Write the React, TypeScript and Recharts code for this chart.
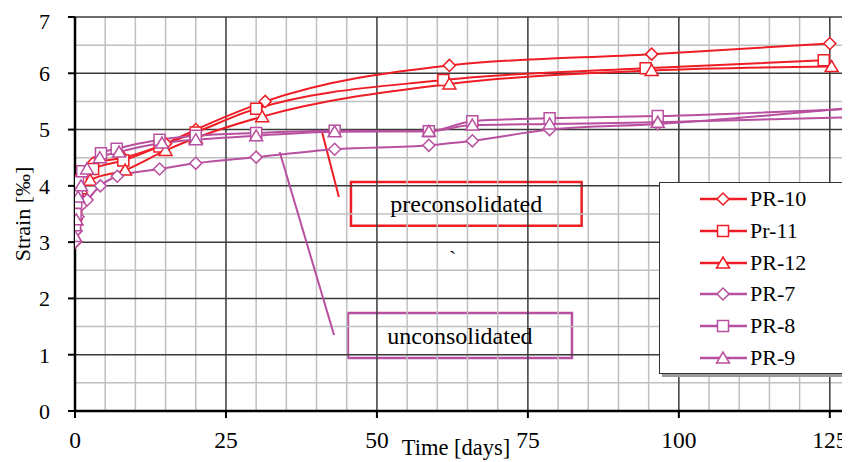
import React from 'react';
import { LineChart, Line, XAxis, YAxis, ReferenceLine, ReferenceArea } from 'recharts';

const FONT = '"Liberation Serif", "Times New Roman", serif';
const RED = '#EE1D25';
const PURPLE = '#B8509F';

// Time [days] and strain [‰] per series
const pr10Days = [0, 0.2, 0.5, 1, 3, 8, 15, 20, 31.5, 62, 95.5, 125];
const pr10Vals = [3.0, 3.4, 3.8, 4.1, 4.4, 4.5, 4.75, 5.0, 5.5, 6.14, 6.34, 6.53];
const pr11Days = [0, 0.2, 0.5, 1, 3, 8, 14, 20, 30, 61, 94.5, 124];
const pr11Vals = [3.3, 3.6, 3.9, 4.1, 4.3, 4.45, 4.7, 4.95, 5.37, 5.88, 6.09, 6.23];
const pr12Days = [0, 0.2, 0.5, 1, 2.5, 8.3, 15, 20, 31, 62, 95.5, 125.3];
const pr12Vals = [3.1, 3.4, 3.7, 3.95, 4.1, 4.28, 4.63, 4.85, 5.23, 5.81, 6.05, 6.12];
const pr7Days = [0, 0.2, 0.5, 1, 2, 4.2, 7, 14, 20, 30, 43, 58.6, 65.8, 78.6, 96.5, 130];
const pr7Vals = [3.0, 3.2, 3.45, 3.65, 3.75, 4.0, 4.17, 4.3, 4.4, 4.51, 4.65, 4.72, 4.8, 5.0, 5.1, 5.4];
const pr8Days = [0, 0.1, 0.2, 0.3, 0.5, 1.2, 4.3, 6.9, 14, 20, 30, 43, 58.6, 65.8, 78.6, 96.5, 128.6];
const pr8Vals = [3.3, 3.5, 3.7, 3.85, 4.07, 4.26, 4.58, 4.66, 4.82, 4.89, 4.94, 4.98, 4.97, 5.15, 5.2, 5.24, 5.37];
const pr9Days = [0, 0.2, 0.5, 1, 2, 4.1, 7.3, 14.4, 20, 30, 43, 58.6, 65.8, 78.6, 96.5, 128.6];
const pr9Vals = [3.1, 3.4, 3.8, 4.0, 4.3, 4.5, 4.6, 4.76, 4.82, 4.89, 4.96, 4.97, 5.08, 5.1, 5.13, 5.22];

const xTicks = [0, 25, 50, 75, 100, 125];
const yTicks = [0, 1, 2, 3, 4, 5, 6, 7];
const xMinor = [5, 10, 15, 20, 30, 35, 40, 45, 55, 60, 65, 70, 80, 85, 90, 95, 105, 110, 115, 120, 130];
const yMinor = [0.5, 1.5, 2.5, 3.5, 4.5, 5.5, 6.5];
const xMajor = [25, 50, 75, 100, 125];
const yMajor = [1, 2, 3, 4, 5, 6, 7];

const zip = (d: number[], v: number[]) => d.map((t, i) => ({ t, v: v[i] }));

type Shape = 'diamond' | 'square' | 'triangle';

const markerPath = (shape: Shape, cx: number, cy: number) => {
  if (shape === 'diamond') return `M${cx - 6},${cy} L${cx},${cy - 6} L${cx + 6},${cy} L${cx},${cy + 6} Z`;
  if (shape === 'square') return `M${cx - 5.5},${cy - 5.5} h11 v11 h-11 Z`;
  return `M${cx},${cy - 6} L${cx + 6.5},${cy + 5} L${cx - 6.5},${cy + 5} Z`;
};

const makeDot = (shape: Shape, color: string) => (props: any) => {
  const { cx, cy, index } = props;
  if (cx == null || cy == null) return <g key={index} />;
  return <path key={index} d={markerPath(shape, cx, cy)} fill="#fff" stroke={color} strokeWidth={1.5} />;
};

const series = [
  { name: 'PR-10', data: zip(pr10Days, pr10Vals), color: RED, shape: 'diamond' as Shape },
  { name: 'Pr-11', data: zip(pr11Days, pr11Vals), color: RED, shape: 'square' as Shape },
  { name: 'PR-12', data: zip(pr12Days, pr12Vals), color: RED, shape: 'triangle' as Shape },
  { name: 'PR-7', data: zip(pr7Days, pr7Vals), color: PURPLE, shape: 'diamond' as Shape },
  { name: 'PR-8', data: zip(pr8Days, pr8Vals), color: PURPLE, shape: 'square' as Shape },
  { name: 'PR-9', data: zip(pr9Days, pr9Vals), color: PURPLE, shape: 'triangle' as Shape },
];

const YLabel = () => (
  <text x={14} y={206} transform="rotate(-90 14 206)" textAnchor="middle" dominantBaseline="central" fill="#000" fontSize={22} fontFamily={FONT}>
    Strain [‰]
  </text>
);

const XLabel = () => (
  <text x={448} y={439} textAnchor="middle" dominantBaseline="central" fill="#000" fontSize={22.5} fontFamily={FONT}>
    Time [days]
  </text>
);

const LegendBox = () => (
  <div
    style={{
      position: 'absolute',
      left: 651,
      top: 174,
      width: 186,
      height: 190,
      background: '#fff',
      border: '1px solid #333',
      boxShadow: '3px 3px 0 #9a9a9a',
      fontFamily: FONT,
      fontSize: 22,
      color: '#000',
    }}
  >
    {series.map((s, i) => (
      <div key={s.name} style={{ position: 'absolute', left: 40, top: 1 + i * 31.8, height: 30, display: 'flex', alignItems: 'center' }}>
        <svg width={49} height={20} style={{ display: 'block' }}>
          <line x1={0} y1={10} x2={47} y2={10} stroke={s.color} strokeWidth={2.5} />
          <path d={markerPath(s.shape, 23, 10)} fill="#fff" stroke={s.color} strokeWidth={1.5} />
        </svg>
        <span style={{ marginLeft: 1, lineHeight: '30px' }}>{s.name}</span>
      </div>
    ))}
  </div>
);

export default function App() {
  return (
    <div style={{ position: 'relative', width: 842, height: 454, overflow: 'hidden', background: '#fff' }}>
      <LineChart width={856} height={454} margin={{ top: 9, right: 4, left: 7, bottom: 1 }}>
        <XAxis
          type="number"
          dataKey="t"
          domain={[0, 130]}
          ticks={xTicks}
          allowDataOverflow
          height={50}
          tickSize={7}
          tickMargin={13}
          axisLine={{ stroke: '#000', strokeWidth: 2.5 }}
          tickLine={{ stroke: '#000', strokeWidth: 2 }}
          tick={{ fill: '#000', fontSize: 23.5, fontFamily: FONT }}
          label={<XLabel />}
        />
        <YAxis
          type="number"
          domain={[0, 7]}
          ticks={yTicks}
          width={60}
          tickSize={7}
          tickMargin={18}
          axisLine={{ stroke: '#000', strokeWidth: 2.5 }}
          tickLine={{ stroke: '#000', strokeWidth: 2 }}
          tick={{ fill: '#000', fontSize: 22, fontFamily: FONT }}
          label={<YLabel />}
        />
        {xMinor.map((x) => (
          <ReferenceLine key={'xm' + x} x={x} stroke="#c0c0c0" strokeWidth={1.5} ifOverflow="hidden" />
        ))}
        {yMinor.map((y) => (
          <ReferenceLine key={'ym' + y} y={y} stroke="#c0c0c0" strokeWidth={1.5} />
        ))}
        {xMajor.map((x) => (
          <ReferenceLine key={'xM' + x} x={x} stroke="#3a3a3a" strokeWidth={1.5} />
        ))}
        {yMajor.map((y) => (
          <ReferenceLine key={'yM' + y} y={y} stroke="#3a3a3a" strokeWidth={1.5} />
        ))}
        <ReferenceLine segment={[{ x: 40.9, y: 4.96 }, { x: 43.7, y: 3.8 }]} stroke={RED} strokeWidth={2} />
        <ReferenceLine segment={[{ x: 33.9, y: 4.6 }, { x: 42.9, y: 1.35 }]} stroke={PURPLE} strokeWidth={2} />
        {series.map((s) => (
          <Line
            key={s.name}
            data={s.data}
            dataKey="v"
            name={s.name}
            type="monotone"
            stroke={s.color}
            strokeWidth={2}
            dot={makeDot(s.shape, s.color)}
            activeDot={false}
            isAnimationActive={false}
          />
        ))}
        <ReferenceArea
          x1={45.7}
          x2={83.9}
          y1={3.29}
          y2={4.07}
          fill="#fff"
          fillOpacity={1}
          stroke={RED}
          strokeWidth={2.5}
          label={{ value: 'preconsolidated', position: 'center', fill: '#000', fontSize: 24, fontFamily: FONT }}
        />
        <ReferenceArea
          x1={45.2}
          x2={82.3}
          y1={0.94}
          y2={1.74}
          fill="#fff"
          fillOpacity={1}
          stroke={PURPLE}
          strokeWidth={2.5}
          label={{ value: 'unconsolidated', position: 'center', fill: '#000', fontSize: 24, fontFamily: FONT }}
        />
      </LineChart>
      <LegendBox />
      <span style={{ position: 'absolute', left: 441, top: 238, fontFamily: FONT, fontSize: 22, color: '#000' }}>`</span>
    </div>
  );
}
